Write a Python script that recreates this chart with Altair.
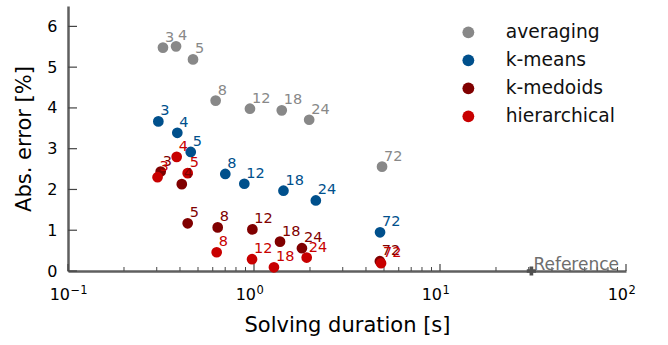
import altair as alt
import pandas as pd

# ---- data ----
series_names = ["averaging", "k-means", "k-medoids", "hierarchical"]
series_colors = ["#888888", "#00508C", "#800000", "#C80000"]
point_labels = ["3", "4", "5", "8", "12", "18", "24", "72"]

averaging_x = [0.324, 0.381, 0.47, 0.622, 0.951, 1.41, 1.98, 4.88]
averaging_y = [5.48, 5.51, 5.19, 4.18, 3.98, 3.94, 3.71, 2.56]

kmeans_x = [0.306, 0.387, 0.457, 0.701, 0.887, 1.44, 2.15, 4.76]
kmeans_y = [3.67, 3.39, 2.92, 2.38, 2.14, 1.97, 1.73, 0.95]

kmedoids_x = [0.315, 0.409, 0.44, 0.638, 0.98, 1.38, 1.81, 4.75]
kmedoids_y = [2.44, 2.13, 1.17, 1.07, 1.02, 0.72, 0.56, 0.24]

hier_x = [0.303, 0.384, 0.44, 0.63, 0.976, 1.28, 1.92, 4.82]
hier_y = [2.30, 2.80, 2.40, 0.46, 0.29, 0.09, 0.33, 0.19]

reference_x = [31.0]
reference_y = [0.0]
reference_label = ["Reference"]

x_major_ticks = [0.1, 1, 10, 100]
x_minor_ticks = [0.2, 0.3, 0.4, 0.5, 0.6, 0.7, 0.8, 0.9,
                 2, 3, 4, 5, 6, 7, 8, 9,
                 20, 30, 40, 50, 60, 70, 80, 90]
x_tick_base = ["10", "10", "10", "10"]
x_tick_exponent = ["\u22121", "0", "1", "2"]
y_ticks = [0, 1, 2, 3, 4, 5, 6]

# ---- tables ----
rows = []
for name, xs, ys in zip(series_names,
                        [averaging_x, kmeans_x, kmedoids_x, hier_x],
                        [averaging_y, kmeans_y, kmedoids_y, hier_y]):
    for lab, x, y in zip(point_labels, xs, ys):
        rows.append({"series": name, "label": lab, "duration": x, "error": y})
df = pd.DataFrame(rows)
ref_df = pd.DataFrame({"duration": reference_x, "error": reference_y, "label": reference_label})
xmaj_df = pd.DataFrame({"duration": x_major_ticks, "base": x_tick_base, "exp": x_tick_exponent})
xmin_df = pd.DataFrame({"duration": x_minor_ticks})
ytick_df = pd.DataFrame({"error": y_ticks})

W, H = 558, 265
AXIS_COLOR = "#5f5f5f"
TICK_COLOR = "#444444"

xscale = alt.Scale(type="log", domain=[0.1, 100], nice=False)
yscale = alt.Scale(domain=[0, 6.5], nice=False, zero=False)

x_axis = alt.Axis(values=x_major_ticks, ticks=False, grid=False, labels=False,
                  domainColor=AXIS_COLOR, domainWidth=2.5,
                  titleFontSize=21, titleFontWeight="normal", titleColor="black",
                  titlePadding=43, title="Solving duration [s]")
y_axis = alt.Axis(values=y_ticks, ticks=False, grid=False,
                  domainColor=AXIS_COLOR, domainWidth=2.5,
                  labelFontSize=16, labelColor="black", labelPadding=11,
                  labelFlush=False, labelOverlap=False,
                  titleFontSize=21, titleFontWeight="normal", titleColor="black",
                  titlePadding=12, title="Abs. error [%]")

color_scale = alt.Scale(domain=series_names, range=series_colors)

points = alt.Chart(df).mark_circle(size=115, opacity=1).encode(
    x=alt.X("duration:Q", scale=xscale, axis=x_axis),
    y=alt.Y("error:Q", scale=yscale, axis=y_axis),
    color=alt.Color("series:N", scale=color_scale, sort=series_names,
                    legend=alt.Legend(title=None, orient="none", legendX=391, legendY=17,
                                      symbolType="circle", symbolSize=140,
                                      symbolStrokeWidth=0, labelFontSize=18.7,
                                      labelColor="#111111", labelOffset=28,
                                      rowPadding=8, padding=0)),
)

texts = alt.Chart(df).mark_text(align="left", baseline="alphabetic", dx=2, dy=-6,
                                fontSize=14.5).encode(
    x=alt.X("duration:Q", scale=xscale),
    y=alt.Y("error:Q", scale=yscale),
    text="label:N",
    color=alt.Color("series:N", scale=color_scale, legend=None),
)

ref_point = alt.Chart(ref_df).mark_point(shape="cross", filled=True, size=85,
                                         color="#505050", opacity=1).encode(
    x=alt.X("duration:Q", scale=xscale),
    y=alt.Y("error:Q", scale=yscale),
)
ref_text = alt.Chart(ref_df).mark_text(align="left", baseline="alphabetic", dx=2, dy=-1,
                                       fontSize=17, color="#6e6e6e").encode(
    x=alt.X("duration:Q", scale=xscale),
    y=alt.Y("error:Q", scale=yscale),
    text="label:N",
)

xmaj = alt.Chart(xmaj_df).mark_rule(color=TICK_COLOR, strokeWidth=1.2).encode(
    x=alt.X("duration:Q", scale=xscale),
    y=alt.value(H), y2=alt.value(H - 7),
)
xmin = alt.Chart(xmin_df).mark_rule(color=TICK_COLOR, strokeWidth=1.0).encode(
    x=alt.X("duration:Q", scale=xscale),
    y=alt.value(H), y2=alt.value(H - 4),
)
yt = alt.Chart(ytick_df).mark_rule(color=TICK_COLOR, strokeWidth=1.2).encode(
    y=alt.Y("error:Q", scale=yscale),
    x=alt.value(0), x2=alt.value(9),
)

# tick labels: "10" with a raised exponent
xlab_base = alt.Chart(xmaj_df).mark_text(align="right", baseline="alphabetic", dx=2,
                                         fontSize=16, color="black").encode(
    x=alt.X("duration:Q", scale=xscale),
    y=alt.value(H + 29),
    text="base:N",
)
xlab_exp = alt.Chart(xmaj_df).mark_text(align="left", baseline="alphabetic", dx=2.5,
                                        fontSize=11.5, color="black").encode(
    x=alt.X("duration:Q", scale=xscale),
    y=alt.value(H + 23),
    text="exp:N",
)

chart = alt.layer(xmaj, xmin, yt, points, texts, ref_point, ref_text,
                  xlab_base, xlab_exp).properties(
    width=W, height=H,
    padding={"left": 68, "top": 6, "right": 42, "bottom": 74},
    autosize=alt.AutoSizeParams(type="none"),
).configure(font="DejaVu Sans").configure_view(stroke=None)

chart.save("out.html", embed_options={"renderer": "svg", "actions": False})
